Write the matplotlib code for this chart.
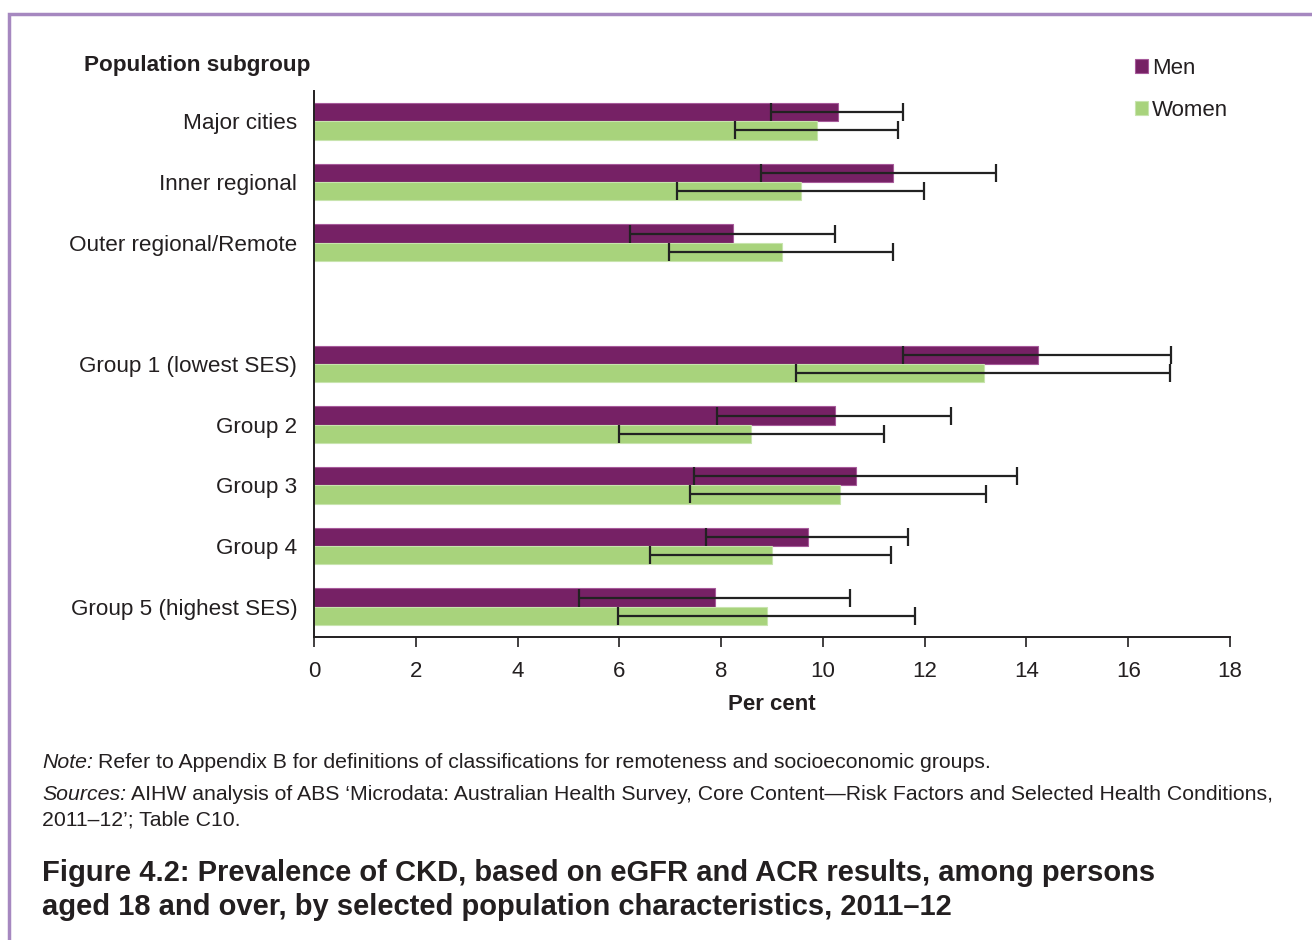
import numpy as np
import matplotlib.pyplot as plt
from matplotlib.patches import Rectangle

plt.rcParams['font.family'] = ['Liberation Sans', 'DejaVu Sans']

groups = ['Major cities', 'Inner regional', 'Outer regional/Remote',
          'Group 1 (lowest SES)', 'Group 2', 'Group 3', 'Group 4',
          'Group 5 (highest SES)']
slots = [0, 1, 2, 4, 5, 6, 7, 8]

men = [10.3, 11.38, 8.23, 14.22, 10.24, 10.65, 9.71, 7.88]
men_lo = [8.98, 8.78, 6.21, 11.57, 7.92, 7.47, 7.70, 5.21]
men_hi = [11.57, 13.40, 10.24, 16.84, 12.51, 13.81, 11.67, 10.53]

women = [9.88, 9.57, 9.19, 13.16, 8.59, 10.33, 9.00, 8.90]
women_lo = [8.27, 7.13, 6.97, 9.47, 5.99, 7.39, 6.60, 5.97]
women_hi = [11.47, 11.98, 11.38, 16.82, 11.20, 13.20, 11.34, 11.81]

men_col = '#762165'
women_col = '#a8d37c'
txt = '#231f20'

fig = plt.figure(figsize=(13.12, 9.40), dpi=100)
ax = fig.add_axes([314/1312, 1 - 637/940, 916/1312, 546/940])

y = np.array(slots, dtype=float)
h = 0.3
ax.barh(y - h/2, men, height=h, color=men_col, edgecolor='#a65a9a', linewidth=0.8, label='Men')
ax.barh(y + h/2, women, height=h, color=women_col, edgecolor='#c8e4ae', linewidth=0.8, label='Women')

men_err = [np.array(men) - np.array(men_lo), np.array(men_hi) - np.array(men)]
women_err = [np.array(women) - np.array(women_lo), np.array(women_hi) - np.array(women)]
ax.errorbar(men, y - h/2, xerr=men_err, fmt='none', ecolor='#222222', elinewidth=1.6, capsize=6.5, capthick=1.6)
ax.errorbar(women, y + h/2, xerr=women_err, fmt='none', ecolor='#222222', elinewidth=1.6, capsize=6.5, capthick=1.6)

ax.set_xlim(0, 18)
ax.set_ylim(8.5, -0.5)
ax.set_xticks(np.arange(0, 19, 2))
ax.set_yticks(slots)
ax.set_yticklabels(groups, fontsize=16.2, color=txt)
ax.tick_params(axis='y', length=0, pad=12)
ax.tick_params(axis='x', labelsize=16, length=7, width=1.2, direction='out', colors=txt, pad=10)
for s in ['top', 'right']:
    ax.spines[s].set_visible(False)
for s in ['left', 'bottom']:
    ax.spines[s].set_linewidth(1.4)
    ax.spines[s].set_color(txt)
ax.set_xlabel('Per cent', fontsize=16, fontweight='bold', color=txt, labelpad=9)

fig.text(84/1312, 1 - 66/940, 'Population subgroup', fontsize=16.2, fontweight='bold',
         color=txt, va='center')

leg = fig.legend(loc='upper left', bbox_to_anchor=(1124/1312, 1 - 47/940), frameon=False,
                 fontsize=16, handlelength=0.6, handleheight=0.6, handletextpad=0.15,
                 labelspacing=0.95, borderpad=0)
for t in leg.get_texts():
    t.set_color(txt)

fs = 15.3
renderer = fig.canvas.get_renderer()


def label_line(x0, ypix, lead, rest):
    t = fig.text(x0, 1 - ypix/940, lead, fontsize=fs, style='italic', color=txt, va='center')
    bb = t.get_window_extent(renderer=renderer)
    fig.text(bb.x1/1312 + 5/1312, 1 - ypix/940, rest, fontsize=fs, color=txt, va='center')


label_line(42/1312, 762, 'Note:',
           'Refer to Appendix B for definitions of classifications for remoteness and socioeconomic groups.')
label_line(42/1312, 795, 'Sources:',
           'AIHW analysis of ABS \u2018Microdata: Australian Health Survey, Core Content\u2014Risk Factors and Selected Health Conditions,')
fig.text(42/1312, 1 - 820/940, '2011\u201312\u2019; Table C10.', fontsize=fs, color=txt, va='center')

fig.text(42/1312, 1 - 890/940,
         'Figure 4.2: Prevalence of CKD, based on eGFR and ACR results, among persons\naged 18 and over, by selected population characteristics, 2011\u201312',
         fontsize=21, fontweight='bold', color=txt, va='center', linespacing=1.25)

fig.patches.append(Rectangle((9/1312, -0.05), 1.2, 1 - 14/940 + 0.05, transform=fig.transFigure,
                             fill=False, edgecolor='#a688c0', linewidth=2.5))

fig.savefig('out.png', dpi=100)
